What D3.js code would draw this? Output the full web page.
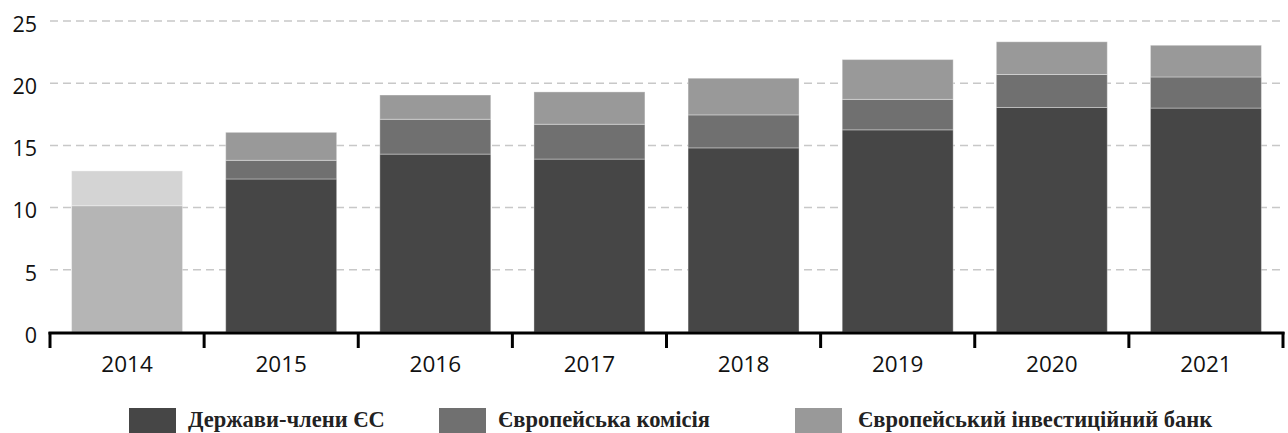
<!DOCTYPE html>
<html>
<head>
<meta charset="utf-8">
<script src="https://cdn.jsdelivr.net/npm/d3@7"></script>
<style>
  body { margin: 0; background: #fff; }
  svg { display: block; }
  .num { font-family: "Open Sans", sans-serif; fill: #111; }
  .leg { font-family: "Liberation Serif", "Times New Roman", serif; font-weight: bold; fill: #222; }
</style>
</head>
<body>
<svg width="1288" height="433"></svg>
<script>
var years = ["2014", "2015", "2016", "2017", "2018", "2019", "2020", "2021"];
var memberStates = [10.15, 12.3, 14.3, 13.9, 14.8, 16.25, 18.05, 18.0];
var commission = [0, 1.5, 2.8, 2.8, 2.65, 2.45, 2.65, 2.5];
var eib = [2.8, 2.25, 1.95, 2.6, 2.95, 3.2, 2.63, 2.55];
var yTicks = [0, 5, 10, 15, 20, 25];
var seriesNames = ["Держави-члени ЄС", "Європейська комісія", "Європейський інвестиційний банк"];

var colors = ["#464646", "#707070", "#999999"];
// 2014 is drawn in lighter tones
var colors2014 = ["#b5b5b5", "#b5b5b5", "#d4d4d4"];

var svg = d3.select("svg"),
    margin = {top: 21, left: 50, right: 5},
    width = 1283 - margin.left,
    y0 = 332;

var rows = years.map(function(y, i) {
  return {year: y, ms: memberStates[i], ec: commission[i], eib: eib[i]};
});
var keys = ["ms", "ec", "eib"];
var stacked = d3.stack().keys(keys)(rows);

var x = d3.scaleBand()
    .domain(years)
    .range([margin.left, margin.left + width])
    .paddingInner(0.28)
    .paddingOuter(0.14);

var y = d3.scaleLinear()
    .domain([0, 25])
    .range([y0, margin.top]);

// grid
svg.append("g")
  .selectAll("line")
  .data(yTicks.slice(1))
  .enter().append("line")
    .attr("x1", margin.left)
    .attr("x2", margin.left + width)
    .attr("y1", function(d) { return y(d); })
    .attr("y2", function(d) { return y(d); })
    .attr("stroke", "#c8c8c8")
    .attr("stroke-width", 1.5)
    .attr("stroke-dasharray", "8,5");

// bars
svg.append("g")
  .selectAll("g")
  .data(stacked)
  .enter().append("g")
  .each(function(layer, li) {
    d3.select(this).selectAll("rect")
      .data(layer.filter(function(d) { return d[1] - d[0] > 0; }))
      .enter().append("rect")
        .attr("x", function(d) { return x(d.data.year); })
        .attr("width", x.bandwidth())
        .attr("y", function(d) { return y(d[1]); })
        .attr("height", function(d) { return y(d[0]) - y(d[1]); })
        .attr("fill", function(d) {
          return d.data.year === "2014" ? colors2014[li] : colors[li];
        })
        .attr("stroke", "rgba(255,255,255,0.35)")
        .attr("stroke-width", 1);
  });

// y labels
svg.append("g")
  .selectAll("text")
  .data(yTicks)
  .enter().append("text")
    .attr("class", "num")
    .attr("x", 37)
    .attr("y", function(d) { return y(d); })
    .attr("dy", "0.5em")
    .attr("text-anchor", "end")
    .attr("font-size", 21.5)
    .text(function(d) { return d; });

// x axis
var bounds = d3.range(years.length + 1).map(function(i) { return margin.left + i * width / years.length; });

svg.append("line")
    .attr("x1", margin.left - 1.5)
    .attr("x2", margin.left + width + 1.5)
    .attr("y1", y0 + 1)
    .attr("y2", y0 + 1)
    .attr("stroke", "#000")
    .attr("stroke-width", 3);

svg.append("g")
  .selectAll("line")
  .data(bounds)
  .enter().append("line")
    .attr("x1", function(d) { return d; })
    .attr("x2", function(d) { return d; })
    .attr("y1", y0)
    .attr("y2", y0 + 16)
    .attr("stroke", "#000")
    .attr("stroke-width", 3);

svg.append("g")
  .selectAll("text")
  .data(years)
  .enter().append("text")
    .attr("class", "num")
    .attr("x", function(d) { return x(d) + x.bandwidth() / 2; })
    .attr("y", 372)
    .attr("text-anchor", "middle")
    .attr("font-size", 22.5)
    .text(function(d) { return d; });

// legend
var legendX = [129, 439, 795];
var legend = svg.append("g")
  .selectAll("g")
  .data(seriesNames)
  .enter().append("g");

legend.append("rect")
    .attr("x", function(d, i) { return legendX[i]; })
    .attr("y", 408)
    .attr("width", 47)
    .attr("height", 30)
    .attr("fill", function(d, i) { return colors[i]; });

legend.append("text")
    .attr("class", "leg")
    .attr("x", function(d, i) { return legendX[i] + 59 + (i === 2 ? 4 : 0); })
    .attr("y", 427)
    .attr("font-size", 22.5)
    .text(function(d) { return d; });
</script>
</body>
</html>
